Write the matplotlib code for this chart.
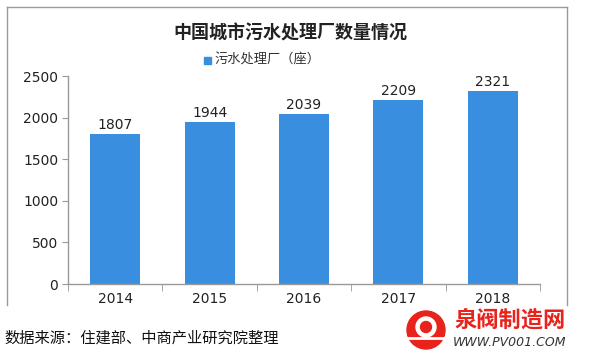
import matplotlib
matplotlib.use("Agg")
import matplotlib.pyplot as plt
from matplotlib.patches import Circle, Rectangle
from matplotlib.lines import Line2D
from matplotlib.transforms import IdentityTransform

plt.rcParams['font.family'] = ['Noto Sans CJK SC', 'DejaVu Sans']

years = ['2014', '2015', '2016', '2017', '2018']
plants = [1807, 1944, 2039, 2209, 2321]
title = '中国城市污水处理厂数量情况'
legend_label = '污水处理厂（座）'
source = '数据来源：住建部、中商产业研究院整理'
yticks = [0, 500, 1000, 1500, 2000, 2500]

bar_color = '#3A8EE0'
W, H = 594, 359
fig = plt.figure(figsize=(W / 100, H / 100), dpi=100)

ax = fig.add_axes([68 / W, 1 - 284 / H, (540 - 68) / W, (284 - 76) / H])
x = list(range(len(years)))
ax.bar(x, plants, width=0.53, color=bar_color, zorder=2)
for xi, v in zip(x, plants):
    ax.text(xi, v + 25, str(v), ha='center', va='bottom', fontsize=10,
            family=['DejaVu Sans'], color='#222222')
ax.set_xlim(-0.5, len(years) - 0.5)
ax.set_ylim(0, 2500)
ax.set_yticks(yticks)
ax.set_yticklabels([str(t) for t in yticks], family=['DejaVu Sans'], fontsize=10, color='#222222')
ax.set_xticks(x)
ax.set_xticklabels(years, family=['DejaVu Sans'], fontsize=10, color='#222222')
ax.tick_params(axis='x', length=0, pad=6)
ax.set_xticks([i - 0.5 for i in range(len(years) + 1)], minor=True)
ax.tick_params(axis='x', which='minor', length=5, color='#999999', direction='out')
ax.tick_params(axis='y', length=4, color='#999999', direction='out', pad=3)
for s in ['top', 'right']:
    ax.spines[s].set_visible(False)
for s in ['left', 'bottom']:
    ax.spines[s].set_color('#999999')
    ax.spines[s].set_linewidth(1)

# chart border
for (x0, y0, x1, y1) in [(7, 7, 567, 7), (7, 7, 7, 305), (567, 7, 567, 305)]:
    fig.add_artist(Line2D([x0 / W, x1 / W], [1 - y0 / H, 1 - y1 / H],
                          color='#9a9a9a', lw=1, transform=fig.transFigure))

fig.text(290 / W, 1 - 33 / H, title, ha='center', va='center', fontsize=13,
         fontweight='bold', color='#222222')
fig.add_artist(Rectangle((204 / W, 1 - 64 / H), 7 / W, 7 / H, color=bar_color,
                         transform=fig.transFigure))
fig.text(214 / W, 1 - 60 / H, legend_label, ha='left', va='center', fontsize=9.5,
         color='#333333')

fig.text(4 / W, 1 - 338 / H, source, ha='left', va='center', fontsize=11,
         color='#111111')

# logo (pixel coordinates)
red = '#E8231C'
pix = IdentityTransform()
cx, cy = 426, H - 330
fig.add_artist(Circle((cx, cy), 19, color=red, transform=pix))
fig.add_artist(Circle((cx, cy + 3), 10, color='white', transform=pix))
fig.add_artist(Circle((cx, cy + 3), 5.5, color=red, transform=pix))
fig.add_artist(Line2D([cx - 19, cx + 19], [cy - 8, cy - 8], color='white', lw=2,
                      transform=pix))
fig.text(510 / W, 1 - 320 / H, '泉阀制造网', ha='center', va='center', fontsize=16,
         fontweight='bold', color=red)
fig.text(510 / W, 1 - 343 / H, 'WWW.PV001.COM', ha='center', va='center', fontsize=9,
         style='italic', color='#333333', family=['DejaVu Sans'])

fig.savefig('out.png', dpi=100)
